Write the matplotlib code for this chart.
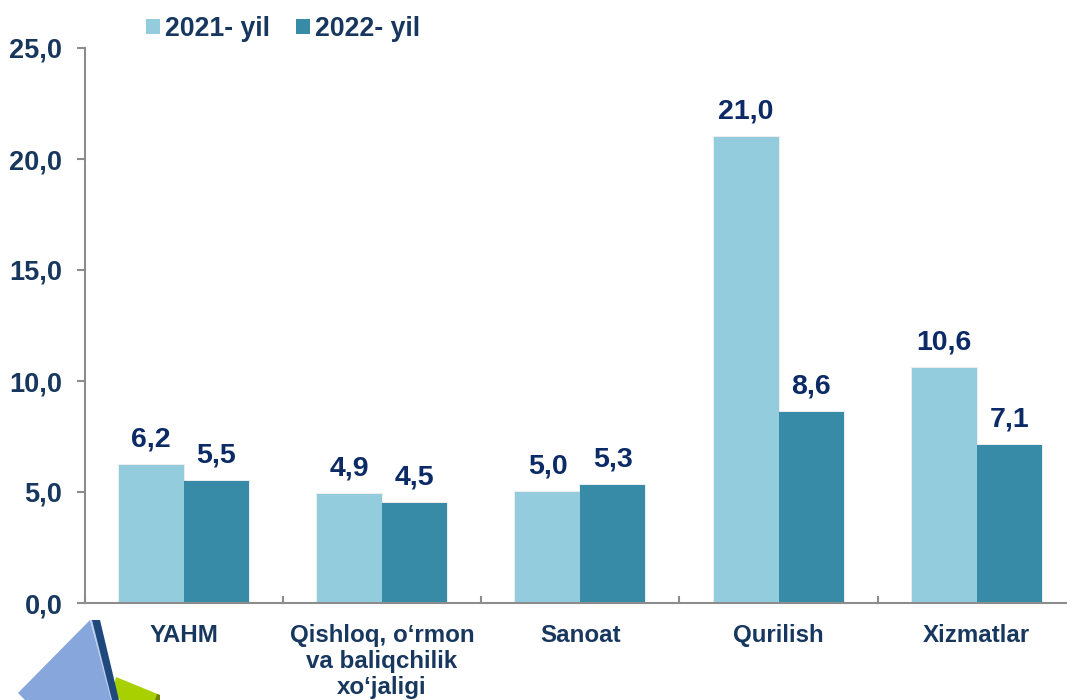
"""
Grouped bars 2021/2022 by sector, with value labels and corner decoration.
"""
import numpy as np
from matplotlib import pyplot as plt
from matplotlib import patheffects as pe
from matplotlib.patches import Patch, Polygon

categories = ["YAHM", "Qishloq, o‘rmon\nva baliqchilik\nxo‘jaligi", "Sanoat", "Qurilish", "Xizmatlar"]
values_2021 = [6.2, 4.9, 5.0, 21.0, 10.6]
values_2022 = [5.5, 4.5, 5.3, 8.6, 7.1]
labels_2021 = ["6,2", "4,9", "5,0", "21,0", "10,6"]
labels_2022 = ["5,5", "4,5", "5,3", "8,6", "7,1"]
y_ticks = [0, 5, 10, 15, 20, 25]
y_labels = ["0,0", "5,0", "10,0", "15,0", "20,0", "25,0"]

W, H = 1067, 700
TEXT = "#17375e"
VALUE_TEXT = "#0b2a66"
LIGHT = "#93cddd"
DARK = "#378ba6"
GREY = "#8c8c8c"

plt.rcParams['font.family'] = ['Liberation Sans', 'DejaVu Sans']
plt.rcParams['font.weight'] = 'bold'


def px(pts):
    return [(x / W, 1 - y / H) for x, y in pts]


def decoration(fig):
    # the clipped 3d pyramid in the lower left corner
    shapes = [
        ([(116, 677), (160, 695), (160, 700), (120, 700), (113, 690)], "#a8cf00"),
        ([(157, 694), (160, 695), (160, 700), (155, 700)], "#6f8500"),
        ([(90, 620), (112, 700), (25, 700), (18, 693)], "#86a6dc"),
        ([(90, 620), (93, 620), (115, 700), (111, 700)], "#bcd0ee"),
        ([(92, 620), (100, 620), (119, 700), (112, 700)], "#1f497d"),
    ]
    for pts, col in shapes:
        fig.add_artist(Polygon(px(pts), closed=True, transform=fig.transFigure, fc=col, ec="none"))


def main():
    fig = plt.figure(figsize=(W / 100, H / 100), dpi=100)
    ax = fig.add_axes([84.5 / W, 1 - 603 / H, (W - 84.5) / W, (603 - 48) / H])
    step = 198.3
    x = np.arange(len(categories))
    bw = 65 / step
    # soft shadow sits under both bars of a pair, so it never shows on the neighbour
    glow = [pe.Stroke(linewidth=1.5, foreground="#cccccc", alpha=0.35)]
    for xs, vals in ((x - bw / 2, values_2021), (x + bw / 2, values_2022)):
        ax.bar(xs, vals, bw, color="#cccccc", path_effects=glow, zorder=1)
    b1 = ax.bar(x - bw / 2, values_2021, bw, color=LIGHT, zorder=2)
    b2 = ax.bar(x + bw / 2, values_2022, bw, color=DARK, zorder=2)
    for bars, labels in ((b1, labels_2021), (b2, labels_2022)):
        ax.bar_label(bars, labels=labels, padding=9, fontsize=20.5, fontweight='bold', color=VALUE_TEXT)

    ax.set_yticks(y_ticks, y_labels, fontsize=19.5, fontweight='bold', color=TEXT)
    ax.set_xticks(x, categories, fontsize=17.4, fontweight='bold', color=TEXT, linespacing=1.16)
    ax.set_xticks(np.arange(len(categories) + 1) - 0.5, minor=True)
    ax.set_xlim(-0.5, (W - 84.5) / step - 0.5)
    ax.set_ylim(0, 25)
    ax.tick_params(axis='x', which='major', length=0, pad=15)
    ax.tick_params(axis='x', which='minor', length=5, width=1.5, color=GREY, direction='in')
    ax.tick_params(axis='y', length=6, width=1.5, color=GREY, direction='out', pad=10)
    ax.spines[['top', 'right']].set_visible(False)
    ax.spines[['left', 'bottom']].set_color(GREY)
    ax.spines[['left', 'bottom']].set_linewidth(1.5)

    handles = [Patch(fc=LIGHT, label="2021- yil"), Patch(fc=DARK, label="2022- yil")]
    fig.legend(handles=handles, loc='center left', bbox_to_anchor=(146 / W, 1 - 29 / H), ncol=2,
               frameon=False, fontsize=19.2, labelcolor=TEXT, handlelength=0.53, handleheight=0.53,
               handletextpad=0.2, columnspacing=0.95, borderpad=0, borderaxespad=0)
    decoration(fig)
    fig.savefig("out.png", dpi=100)


if __name__ == "__main__":
    main()
